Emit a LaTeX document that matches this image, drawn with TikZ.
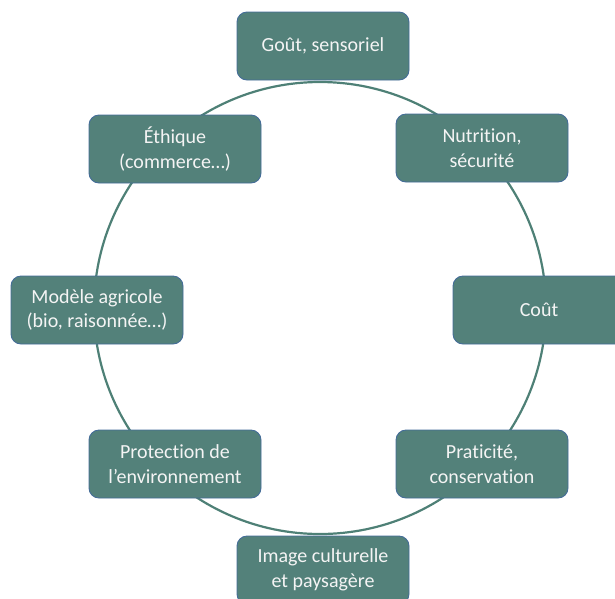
\documentclass[tikz,border=0pt]{standalone}
\usepackage{fontspec}
\setmainfont{Carlito}[Ligatures=NoCommon]
\definecolor{tealfill}{RGB}{83,129,122}
\definecolor{edgeblue}{RGB}{68,108,152}
\definecolor{ringline}{RGB}{78,128,118}
\definecolor{lighttext}{RGB}{244,244,244}

\begin{document}
\begin{tikzpicture}[x=1pt,y=-1pt,
  topic/.style={draw=edgeblue,line width=0.9pt,fill=tealfill,rounded corners=10pt,
    minimum width=172pt,minimum height=68pt,inner sep=0pt,align=center,
    text=lighttext,font=\fontsize{20}{24.5}\selectfont},
  ring/.style={draw=ringline,line width=2.2pt}]
  \clip (0,0) rectangle (615,598);

  \coordinate (mid) at (320,308);
  \draw[ring] (mid) circle (226pt);

  \node[topic] (gout)    at (323,46)  {Goût, sensoriel};
  \node[topic] (nutri)   at (482,148) {Nutrition,\\sécurité};
  \node[topic] (cout)    at (539,310) {Coût};
  \node[topic] (prati)   at (482,464) {Praticité,\\conservation};
  \node[topic] (image)   at (323,570) {Image culturelle\\et paysagère};
  \node[topic] (protect) at (175,464) {Protection de\\l’environnement};
  \node[topic] (modele)  at (97,310)  {Modèle agricole\\(bio, raisonnée…)};
  \node[topic] (ethique) at (175,149) {Éthique\\(commerce…)};
\end{tikzpicture}
\end{document}
